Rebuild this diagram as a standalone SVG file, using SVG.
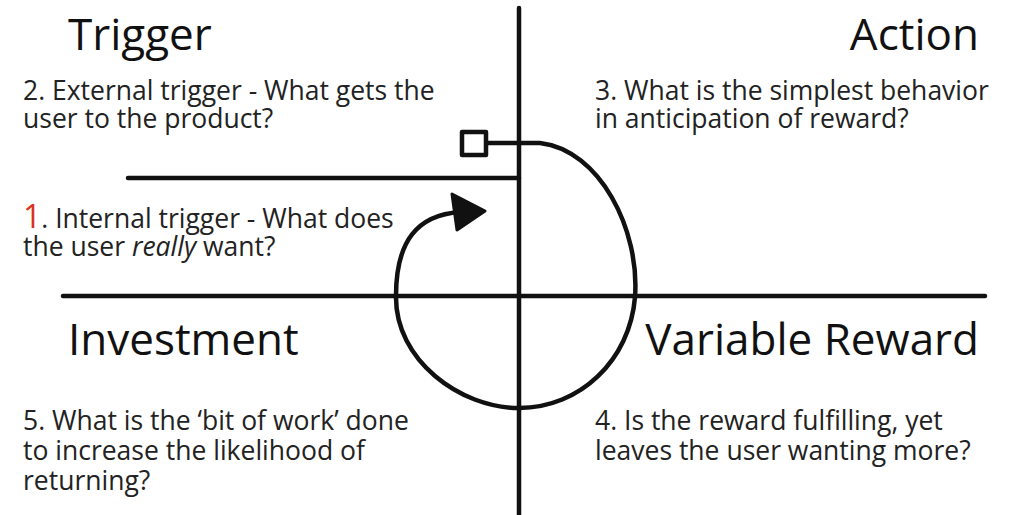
<svg xmlns="http://www.w3.org/2000/svg" width="1010" height="515" viewBox="0 0 1010 515">
<style>
.ln{stroke:#111;stroke-width:4.5;fill:none;stroke-linecap:round;stroke-linejoin:round}
.title{font-family:"Open Sans","Noto Sans",sans-serif;font-size:44px;fill:#111}
.body{font-family:"Open Sans","Noto Sans",sans-serif;font-size:26.5px;fill:#222}
.red{fill:#d8321e;font-size:32px}
</style>
<rect width="1010" height="515" fill="#fff"/>
<g id="connectors">
<line class="ln" x1="519" y1="8" x2="519" y2="515"/>
<line class="ln" x1="63" y1="296" x2="985" y2="296"/>
<line class="ln" x1="128" y1="178" x2="519" y2="178"/>
<path class="ln" d="M487 143 L540 143 C600 150 640 230 635 297 C630 360 580 408 519 408 C460 408 395 360 396 296 C396 240 418 215 460 212"/>
<polygon points="452,194 485,211 457,230" fill="#111" stroke="#111" stroke-width="3" stroke-linejoin="round"/>
</g>
<g id="square"><rect class="ln" x="462" y="132" width="24" height="23"/></g>
<g id="trigger">
<text class="title" x="68" y="50">Trigger</text>
<text class="body" x="23" y="100">2. External trigger - What gets the</text>
<text class="body" x="23" y="128">user to the product?</text>
</g>
<g id="internal">
<text class="body" x="23" y="228"><tspan class="red">1</tspan>. Internal trigger - What does</text>
<text class="body" x="23" y="256">the user <tspan font-style="italic">really</tspan> want?</text>
</g>
<g id="action">
<text class="title" x="979" y="50" text-anchor="end">Action</text>
<text class="body" x="595" y="100">3. What is the simplest behavior</text>
<text class="body" x="595" y="128">in anticipation of reward?</text>
</g>
<g id="investment">
<text class="title" x="68" y="355">Investment</text>
<text class="body" x="23" y="430">5. What is the ‘bit of work’ done</text>
<text class="body" x="23" y="460">to increase the likelihood of</text>
<text class="body" x="23" y="490">returning?</text>
</g>
<g id="reward">
<text class="title" x="979" y="355" text-anchor="end">Variable Reward</text>
<text class="body" x="595" y="430">4. Is the reward fulfilling, yet</text>
<text class="body" x="595" y="460">leaves the user wanting more?</text>
</g>
</svg>
